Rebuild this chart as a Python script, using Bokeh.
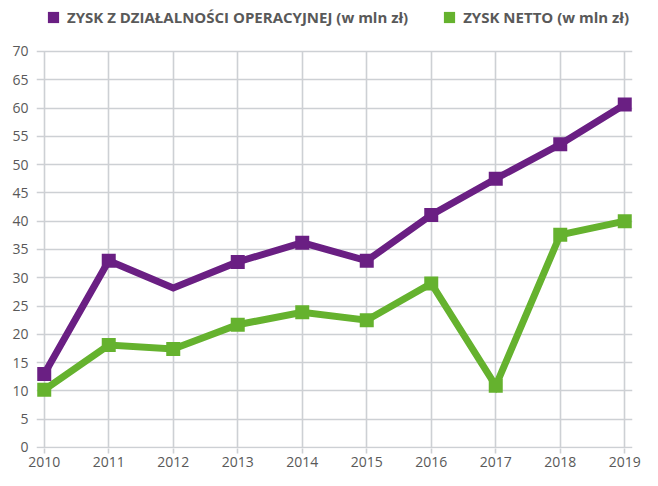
from bokeh.plotting import figure
from bokeh.models import ColumnDataSource, FixedTicker, Legend, LegendItem, Range1d
from bokeh.embed import file_html
from bokeh.resources import INLINE

years = [2010, 2011, 2012, 2013, 2014, 2015, 2016, 2017, 2018, 2019]
zysk_operacyjny = [13.0, 33.0, 28.2, 32.8, 36.2, 33.0, 41.1, 47.5, 53.6, 60.6]
zysk_netto = [10.2, 18.1, 17.4, 21.7, 23.9, 22.5, 29.0, 10.9, 37.6, 40.0]
# which points carry a square marker (2012 of the operating profit line has none)
marker_operacyjny = [True, True, False, True, True, True, True, True, True, True]
marker_netto = [True] * 10

label_operacyjny = "ZYSK Z DZIAŁALNOŚCI OPERACYJNEJ (w mln zł)"
label_netto = "ZYSK NETTO (w mln zł)"
y_ticks = list(range(0, 75, 5))
y_min, y_max = 0, 70

PURPLE = "#6a1f83"
GREEN = "#65b22e"
GRID = "#cdd0d4"
TEXT = "#595959"
FONT = "Open Sans"

# the frame reaches the top of the canvas so that the legend can sit in it
p = figure(width=642, height=470, output_backend="svg", toolbar_location=None,
           x_range=Range1d(2009.88, 2019.12), y_range=Range1d(-0.18, 79.0),
           min_border_left=36, min_border_right=10, min_border_top=0,
           min_border_bottom=22)
p.outline_line_color = None
p.background_fill_color = "white"
p.border_fill_color = "white"

# grid
p.xgrid.ticker = FixedTicker(ticks=years)
p.ygrid.ticker = FixedTicker(ticks=y_ticks)
p.xgrid.cross_bounds = (y_min, y_max)
for g in (p.xgrid, p.ygrid):
    g.grid_line_color = GRID
    g.grid_line_width = 1.6

# axes
p.xaxis.ticker = FixedTicker(ticks=years)
p.yaxis.ticker = FixedTicker(ticks=y_ticks)
p.xaxis.axis_line_color = None
p.yaxis.axis_line_color = None
p.yaxis.major_tick_line_color = None
p.xaxis.major_tick_line_color = GRID
p.xaxis.major_tick_line_width = 1.6
p.xaxis.major_tick_out = 5
p.xaxis.major_tick_in = 0
p.yaxis.major_tick_out = 0
p.yaxis.major_tick_in = 0
p.xaxis.minor_tick_line_color = None
p.yaxis.minor_tick_line_color = None
p.yaxis.major_label_standoff = 8
p.xaxis.major_label_standoff = 3
for ax in (p.xaxis, p.yaxis):
    ax.major_label_text_font = FONT
    ax.major_label_text_font_size = "14px"
    ax.major_label_text_color = TEXT

# series
src_op = ColumnDataSource(dict(x=years, y=zysk_operacyjny))
src_net = ColumnDataSource(dict(x=years, y=zysk_netto))
src_op_m = ColumnDataSource(dict(
    x=[x for x, m in zip(years, marker_operacyjny) if m],
    y=[y for y, m in zip(zysk_operacyjny, marker_operacyjny) if m]))
src_net_m = ColumnDataSource(dict(
    x=[x for x, m in zip(years, marker_netto) if m],
    y=[y for y, m in zip(zysk_netto, marker_netto) if m]))

p.line("x", "y", source=src_net, line_color=GREEN, line_width=7, line_join="miter")
r_net = p.scatter("x", "y", source=src_net_m, marker="square", size=14,
                  fill_color=GREEN, line_color=None)
p.line("x", "y", source=src_op, line_color=PURPLE, line_width=7, line_join="miter")
r_op = p.scatter("x", "y", source=src_op_m, marker="square", size=14,
                 fill_color=PURPLE, line_color=None)

legend = Legend(items=[LegendItem(label=label_operacyjny, renderers=[r_op]),
                       LegendItem(label=label_netto, renderers=[r_net])],
                orientation="horizontal", location=(3, 417),
                glyph_width=28, glyph_height=28, label_height=15,
                label_standoff=0, spacing=27, padding=0, margin=0,
                background_fill_alpha=0, border_line_color=None,
                label_text_font=FONT, label_text_font_size="15px",
                label_text_font_style="bold",
                label_text_color=TEXT, label_text_baseline="middle")
p.add_layout(legend, "center")

open("out.html", "w").write(file_html(p, INLINE))
